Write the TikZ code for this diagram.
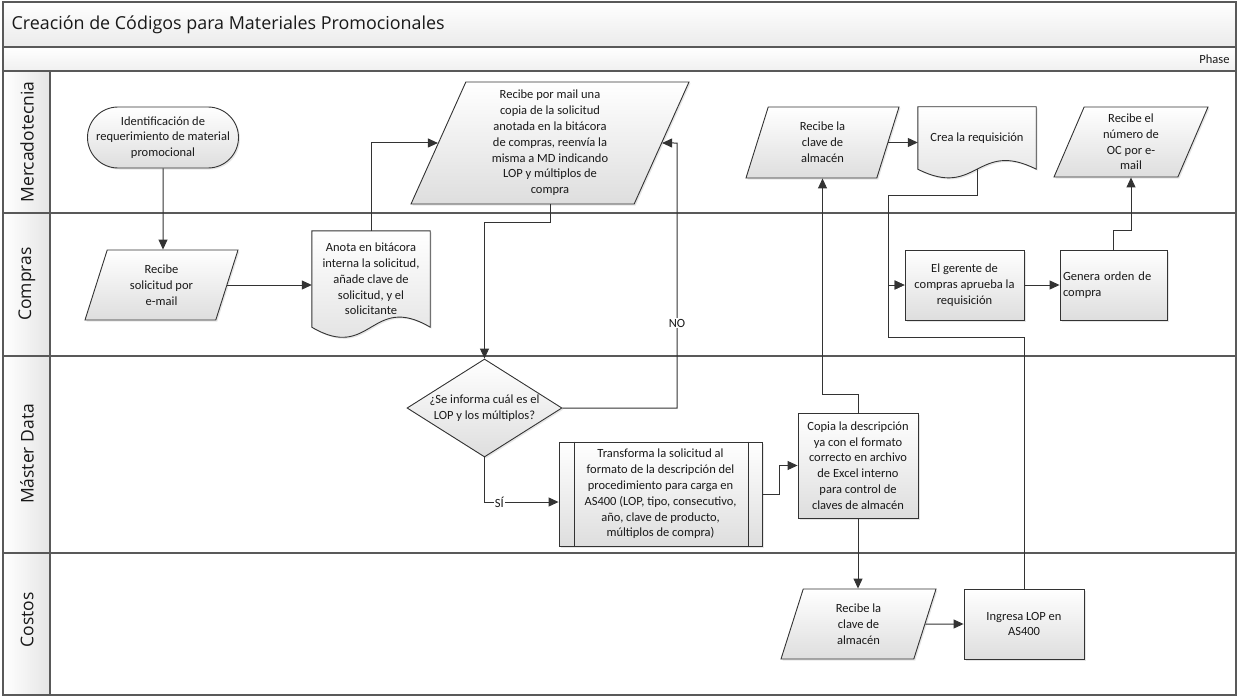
\documentclass[tikz,border=0pt]{standalone}
\usepackage{fontspec}
\setmainfont{Carlito}
\newfontfamily\headfont{Open Sans}
\usetikzlibrary{positioning, arrows.meta, shapes.geometric, shapes.misc, shadows, calc, backgrounds}

\begin{document}
\begin{tikzpicture}[
    x=1pt, y=-1pt,
    base/.style={draw=black!80, line width=0.9pt, top color=white, bottom color=black!13, text=black!90, font=\fontsize{12.5}{15.8}\selectfont, align=center, inner sep=2pt, drop shadow={shadow xshift=1.5pt, shadow yshift=-1.5pt, opacity=0.2}},
    process/.style={base, rectangle},
    io/.style={base, trapezium, trapezium left angle=63.4, trapezium right angle=116.6, trapezium stretches body},
    decision/.style={base, diamond, inner sep=0pt},
    terminator/.style={base, rounded rectangle},
    docbox/.style={rectangle, inner sep=2pt, text=black!90, font=\fontsize{12.5}{15.8}\selectfont, align=center},
    docshape/.style={draw=black!80, line width=0.9pt, top color=white, bottom color=black!13, drop shadow={shadow xshift=1.5pt, shadow yshift=-1.5pt, opacity=0.2}},
    plain/.style={text=black!90, font=\fontsize{12.5}{15.8}\selectfont, align=center, inner sep=0pt},
    edge/.style={draw=black!80, line width=1pt, -{Triangle[length=10pt, width=9pt]}},
    lbl/.style={fill=white, inner sep=1pt, text=black!90, font=\fontsize{12.5}{14}\selectfont},
    laneline/.style={draw=black!65, line width=1.3pt},
    lanelabel/.style={rotate=90, text=black!90, font=\headfont\fontsize{17.5}{20}\selectfont}
]
    \useasboundingbox (0,0) rectangle (1238,698);

    % Pool and lanes ===========================
    \shade[top color=white, bottom color=black!8] (3,2) rectangle (1236,47);
    \shade[top color=white, bottom color=black!6] (3,47) rectangle (1236,71);
    \shade[left color=white, right color=black!10] (3,71) rectangle (50,695);
    \draw[laneline] (3,2) rectangle (1236,695);
    \draw[laneline] (3,47) -- (1236,47);
    \draw[laneline] (3,71) -- (1236,71);
    \draw[laneline] (3,213) -- (1236,213);
    \draw[laneline] (3,356) -- (1236,356);
    \draw[laneline] (3,553) -- (1236,553);
    \draw[laneline] (50,71) -- (50,695);

    \node[anchor=west, text=black!90, font=\headfont\fontsize{17.9}{21}\selectfont] (title) at (8,25) {Creación de Códigos para Materiales Promocionales};
    \node[anchor=east, text=black!90, font=\fontsize{12.5}{14}\selectfont] (phase) at (1233,59) {Phase};

    \node[lanelabel] (lmerc) at (27,142) {Mercadotecnia};
    \node[lanelabel] (lcomp) at (27,284) {Compras};
    \node[lanelabel] (lmd) at (27,454) {Máster Data};
    \node[lanelabel] (lcost) at (27,620) {Costos};

    % Mercadotecnia ===========================
    \node[terminator, minimum width=155pt, minimum height=61pt] (start) at (163,137.5) {Identificación de\\requerimiento de material\\promocional};
    \node[io, minimum width=278pt, minimum height=122pt] (recmail) at (550,143) {Recibe por mail una\\copia de la solicitud\\anotada en la bitácora\\de compras, reenvía la\\misma a MD indicando\\LOP y múltiplos de\\compra};
    \node[io, minimum width=153pt, minimum height=71pt] (recclave) at (822.5,142.5) {Recibe la\\clave de\\almacén};
    \node[docbox, minimum width=118pt, minimum height=62pt] (crea) at (977,138) {Crea la requisición};
    \node[io, minimum width=154pt, minimum height=70pt] (recnum) at (1131,142) {Recibe el\\número de\\OC por e-\\mail};

    % Compras ===========================
    \node[io, minimum width=153pt, minimum height=70pt] (recsol) at (161.5,285) {Recibe\\solicitud por\\e-mail};
    \node[docbox, minimum width=118pt, minimum height=96pt] (anota) at (371,279) {Anota en bitácora\\interna la solicitud,\\añade clave de\\solicitud, y el\\solicitante};
    \node[process, minimum width=119pt, minimum height=70pt] (gerente) at (964.5,285) {El gerente de\\compras aprueba la\\requisición};
    \node[process, minimum width=107pt, minimum height=70pt, text width=101pt, align=left] (genera) at (1113.5,285) {Genera orden de\\compra};

    % Master Data ===========================
    \node[decision, aspect=1.58, minimum width=155pt, minimum height=98pt] (dec) at (484.5,408) {};
    \node[plain] (dectxt) at (dec) {¿Se informa cuál es el\\LOP y los múltiplos?};
    \node[process, minimum width=203pt, minimum height=104pt] (trans) at (660.5,494) {Transforma la solicitud al\\formato de la descripción del\\procedimiento para carga en\\AS400 (LOP, tipo, consecutivo,\\año, clave de producto,\\múltiplos de compra)};
    \draw[black!80, line width=0.9pt] ([xshift=16pt]trans.north west) -- ([xshift=16pt]trans.south west);
    \draw[black!80, line width=0.9pt] ([xshift=-14pt]trans.north east) -- ([xshift=-14pt]trans.south east);
    \node[process, minimum width=120pt, minimum height=105pt] (copia) at (858,465.5) {Copia la descripción\\ya con el formato\\correcto en archivo\\de Excel interno\\para control de\\claves de almacén};

    % Costos ===========================
    \node[io, minimum width=155pt, minimum height=70pt] (recclave2) at (858.5,624) {Recibe la\\clave de\\almacén};
    \node[process, minimum width=120pt, minimum height=70pt] (ingresa) at (1024,624) {Ingresa LOP en\\AS400};

    % Document outlines ===========================
    \begin{scope}[on background layer]
        \path[docshape] (anota.north west) -- (anota.north east) -- (anota.south east)
            .. controls ($(anota.south)+(0,-35)$) and ($(anota.south)+(0,35)$) .. (anota.south west) -- cycle;
        \path[docshape] (crea.north west) -- (crea.north east) -- (crea.south east)
            .. controls ($(crea.south)+(0,-30)$) and ($(crea.south)+(0,30)$) .. (crea.south west) -- cycle;
    \end{scope}

    % Connectors ===========================
    \coordinate (nobend) at (677,143);
    \coordinate (merge) at (888,337);

    \draw[edge] (start) -- (start |- recsol.north);
    \draw[edge] (recsol.east) -- (recsol.east -| anota.west);
    \draw[edge] (anota.north) |- (recmail);
    \draw[edge] (recmail.south -| recmail.center) -- ++(0,18) -| (dec.north);
    \draw[edge] (dec.east) -| node[lbl, pos=0.66] (nolbl) {NO} (nobend) -- (recmail);
    \draw[edge] (dec.south) |- node[lbl, pos=0.6] (silbl) {SÍ} ([yshift=-8pt]trans.west);
    \draw[edge] (trans.east) -- ++(17,0) |- (copia);
    \draw[edge] (copia.north) -- ++(0,-18) -| (recclave);
    \draw[edge] (copia.south) -- (copia.south |- recclave2.north);
    \draw[edge] (recclave2) -- (ingresa);
    \draw[edge] (recclave.east) -- (recclave.east -| crea.west);
    \draw[edge] (crea.south) -- ++(0,26) -| (merge |- gerente) -- (gerente);
    \draw[edge] (ingresa.north) |- (merge) |- (gerente);
    \draw[edge] (gerente) -- (genera);
    \draw[edge] (genera.north) -- ++(0,-19) -| (recnum);

\end{tikzpicture}
\end{document}
